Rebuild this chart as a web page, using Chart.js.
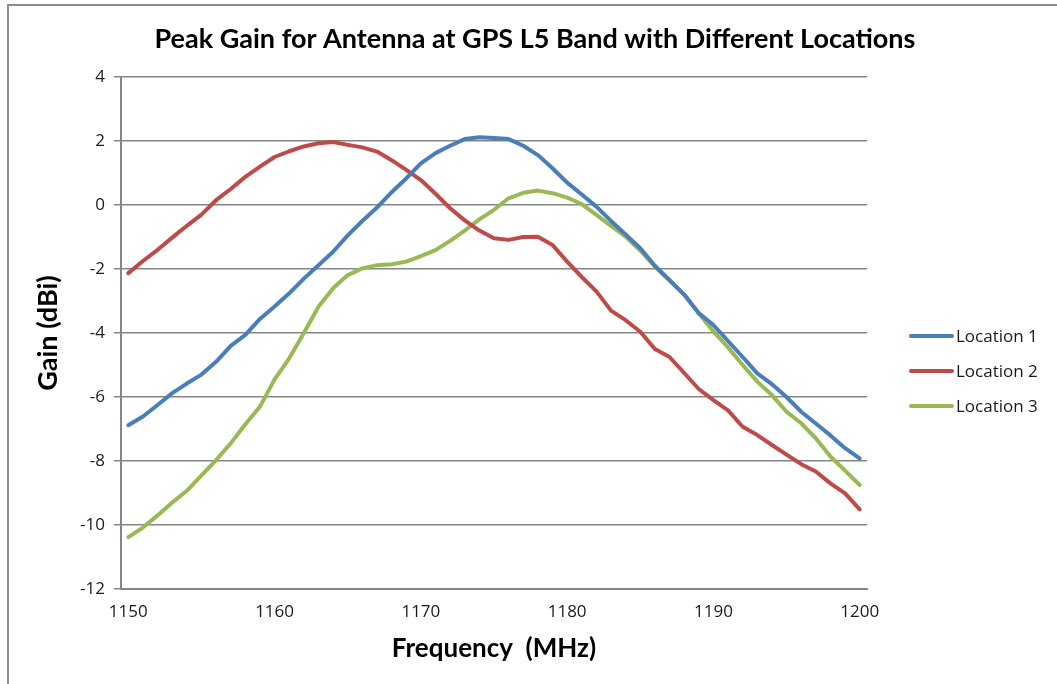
<!DOCTYPE html>
<html>
<head>
<meta charset="utf-8">
<script src="https://cdn.jsdelivr.net/npm/chart.js@4.4.0/dist/chart.umd.min.js"></script>
<style>
  html, body { margin: 0; padding: 0; background: #fff; }
  #wrap { position: relative; width: 1057px; height: 684px; overflow: hidden; }
  #frame { position: absolute; left: 7px; top: 4px; width: 1100px; height: 720px; border: 2px solid #8c8c8c; }
  #gainChart { position: absolute; left: 0; top: 0; }
</style>
</head>
<body>
<div id="wrap">
  <div id="frame"></div>
  <canvas id="gainChart" width="1057" height="684"></canvas>
</div>
<script>
const frequencies = [];
for (let f = 1150; f <= 1200; f++) frequencies.push(f);

const location1 = [
  -6.88, -6.61, -6.25, -5.88, -5.58, -5.30, -4.90, -4.40, -4.06, -3.56,
  -3.17, -2.76, -2.30, -1.88, -1.46, -0.95, -0.50, -0.08, 0.40, 0.83,
  1.30, 1.62, 1.85, 2.06, 2.12, 2.09, 2.06, 1.85, 1.56, 1.15,
  0.70, 0.33, -0.05, -0.50, -0.92, -1.35, -1.90, -2.35, -2.80, -3.38,
  -3.75, -4.25, -4.75, -5.26, -5.60, -6.00, -6.46, -6.83, -7.20, -7.60,
  -7.92
];
const location2 = [
  -2.13, -1.75, -1.40, -1.02, -0.65, -0.30, 0.15, 0.50, 0.88, 1.20,
  1.50, 1.68, 1.83, 1.93, 1.97, 1.88, 1.80, 1.67, 1.40, 1.10,
  0.78, 0.35, -0.10, -0.48, -0.80, -1.04, -1.09, -1.00, -0.99, -1.25,
  -1.77, -2.25, -2.70, -3.30, -3.60, -3.96, -4.50, -4.75, -5.25, -5.75,
  -6.10, -6.42, -6.93, -7.19, -7.50, -7.80, -8.10, -8.33, -8.70, -9.01,
  -9.51
];
const location3 = [
  -10.38, -10.08, -9.70, -9.30, -8.93, -8.45, -7.97, -7.45, -6.85, -6.30,
  -5.45, -4.79, -4.00, -3.18, -2.60, -2.19, -1.98, -1.88, -1.85, -1.77,
  -1.60, -1.41, -1.12, -0.80, -0.45, -0.15, 0.21, 0.38, 0.45, 0.37,
  0.23, 0.03, -0.31, -0.65, -0.99, -1.42, -1.93, -2.35, -2.80, -3.38,
  -3.95, -4.45, -5.00, -5.52, -5.94, -6.46, -6.82, -7.29, -7.86, -8.30,
  -8.75
];
const seriesNames = ["Location 1", "Location 2", "Location 3"];
const seriesColors = ["#4a7ebb", "#be4b48", "#98b954"];
const chartTitle = "Peak Gain for Antenna at GPS L5 Band with Different Locations";

const gridColor = "#868686";
const textColor = "#1a1a1a";

// title over the whole frame and legend at the right, like the spreadsheet original
const frameText = {
  id: "frameText",
  afterDraw(chart) {
    const ctx = chart.ctx;
    ctx.save();
    ctx.fillStyle = "#000";
    ctx.font = "bold 27px Lato";
    ctx.textAlign = "center";
    ctx.textBaseline = "middle";
    ctx.fillText(chartTitle, 535, 39);

    ctx.font = "17px 'Open Sans'";
    ctx.textAlign = "left";
    chart.data.datasets.forEach(function (ds, i) {
      const y = 336 + i * 35;
      ctx.strokeStyle = ds.borderColor;
      ctx.lineWidth = 4;
      ctx.lineCap = "round";
      ctx.beginPath();
      ctx.moveTo(911, y);
      ctx.lineTo(952, y);
      ctx.stroke();
      ctx.fillStyle = textColor;
      ctx.fillText(ds.label, 956, y + 1);
    });
    ctx.restore();
  },
};

new Chart(document.getElementById("gainChart"), {
  type: "line",
  data: {
    labels: frequencies,
    datasets: [location1, location2, location3].map(function (vals, i) {
      return {
        label: seriesNames[i],
        data: vals,
        borderColor: seriesColors[i],
        backgroundColor: seriesColors[i],
        borderWidth: 4,
        pointRadius: 0,
        tension: 0,
        borderCapStyle: "round",
        borderJoinStyle: "round",
      };
    }),
  },
  options: {
    responsive: false,
    animation: false,
    layout: { padding: { left: 28, right: 190, top: 77, bottom: 18 } },
    plugins: {
      legend: { display: false },
      tooltip: { enabled: false },
      title: { display: false },
    },
    scales: {
      x: {
        offset: true,
        afterFit: function (scale) { scale.height = 684 - 589 - 18; },
        grid: { display: true, color: "rgba(0,0,0,0)", drawTicks: false },
        border: { display: true, color: gridColor, width: 2 },
        ticks: {
          autoSkip: false,
          maxRotation: 0,
          padding: 13,
          color: textColor,
          font: { family: "Open Sans", size: 17 },
          callback: function (v, i) {
            const f = frequencies[i];
            return f % 10 === 0 ? String(f) : "";
          },
        },
        title: {
          display: true,
          text: "Frequency  (MHz)",
          color: "#000",
          font: { family: "Lato", size: 26, weight: "bold", lineHeight: 1.2 },
          padding: { top: 2, bottom: 2 },
        },
      },
      y: {
        min: -12,
        max: 4,
        afterFit: function (scale) { scale.width = 121 - 28; },
        ticks: {
          stepSize: 2,
          padding: 9,
          color: textColor,
          font: { family: "Open Sans", size: 17 },
        },
        grid: { color: gridColor, lineWidth: 1.5, tickLength: 7 },
        border: { display: true, color: gridColor, width: 2 },
        title: {
          display: true,
          text: "Gain (dBi)",
          color: "#000",
          font: { family: "Lato", size: 27, weight: "bold", lineHeight: 1.2 },
          padding: { top: 4, bottom: 2 },
        },
      },
    },
  },
  plugins: [frameText],
});
</script>
</body>
</html>
